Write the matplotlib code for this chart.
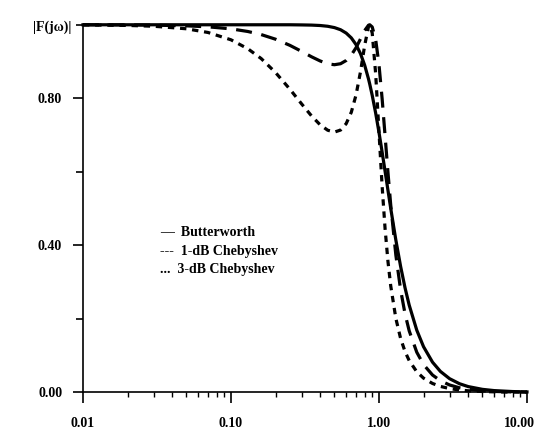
import matplotlib
matplotlib.use("Agg")
import matplotlib.pyplot as plt
import matplotlib.transforms as mtransforms
from matplotlib.ticker import FixedLocator, NullFormatter

# frequency points (normalized, log axis)
w = [0.01, 0.02, 0.03, 0.05, 0.07, 0.1, 0.13, 0.16, 0.2, 0.25, 0.3, 0.35,
     0.4, 0.45, 0.5, 0.55, 0.6, 0.65, 0.7, 0.75, 0.8, 0.85, 0.866, 0.9,
     0.95, 1.0, 1.05, 1.1, 1.15, 1.2, 1.3, 1.4, 1.5, 1.6, 1.8, 2.0, 2.3,
     2.6, 3.0, 3.5, 4.0, 5.0, 6.0, 8.0, 10.0]

butterworth = [1.000, 1.000, 1.000, 1.000, 1.000, 1.000, 1.000, 1.000, 1.000,
               1.000, 0.9996, 0.9991, 0.998, 0.9959, 0.9923, 0.9865, 0.9774,
               0.9643, 0.9459, 0.9214, 0.8902, 0.8522, 0.8386, 0.808, 0.7592,
               0.7071, 0.6537, 0.6007, 0.5494, 0.5008, 0.4142, 0.3424, 0.2841,
               0.2372, 0.169, 0.124, 0.0819, 0.0568, 0.037, 0.0233, 0.0156,
               0.008, 0.0046, 0.002, 0.001]

cheb_1db = [0.9999, 0.9995, 0.999, 0.9971, 0.9944, 0.9889, 0.9817, 0.9733,
            0.9607, 0.944, 0.9276, 0.9129, 0.9016, 0.8937, 0.8913, 0.894,
            0.9028, 0.9176, 0.9377, 0.9615, 0.9843, 0.9989, 1.000, 0.994,
            0.9592, 0.8913, 0.7988, 0.6967, 0.598, 0.5103, 0.3731, 0.2786,
            0.2133, 0.1672, 0.109, 0.0754, 0.047, 0.0314, 0.0199, 0.0122,
            0.0081, 0.0041, 0.0023, 0.001, 0.0005]

cheb_3db = [0.9996, 0.9982, 0.996, 0.9891, 0.979, 0.9591, 0.9347, 0.908,
            0.87, 0.8247, 0.7847, 0.752, 0.7279, 0.7131, 0.708, 0.7135,
            0.7308, 0.762, 0.8093, 0.8721, 0.9435, 0.9957, 1.000, 0.9776,
            0.8657, 0.708, 0.5606, 0.4438, 0.3558, 0.2897, 0.2009, 0.1463,
            0.1107, 0.0862, 0.0558, 0.0385, 0.024, 0.016, 0.0101, 0.0062,
            0.0041, 0.0021, 0.0012, 0.0005, 0.0003]

legend_lines = ["\u2014  Butterworth", "---  1-dB Chebyshev", "...  3-dB Chebyshev"]

plt.rcParams['font.family'] = ['Liberation Serif', 'DejaVu Serif']
plt.rcParams['font.weight'] = 'bold'

fig = plt.figure(figsize=(5.4, 4.3), dpi=100)
ax = fig.add_axes([0.1537, 0.0877, 0.8222, 0.8547])

ax.plot(w, butterworth, color='black', lw=2.3, clip_on=False)
ax.plot(w, cheb_1db, color='black', lw=2.3, dashes=(5, 3), clip_on=False)
ax.plot(w, cheb_3db, color='black', lw=2.3, dashes=(2, 1.8), clip_on=False)

ax.set_xscale('log')
ax.set_xlim(0.01, 10)
ax.set_ylim(0, 1.0)

ax.spines['top'].set_visible(False)
ax.spines['right'].set_visible(False)
ax.spines['left'].set_linewidth(1.2)
ax.spines['bottom'].set_linewidth(1.2)

ax.set_xticks([0.01, 0.1, 1, 10])
ax.set_xticklabels(['0.01', '0.10', '1.00', '10.00'])
ax.xaxis.set_minor_locator(FixedLocator(
    [m * d for d in (0.01, 0.1, 1) for m in range(2, 10)]))
ax.xaxis.set_minor_formatter(NullFormatter())
ax.tick_params(axis='x', which='major', length=8, width=1.2, pad=10,
               labelsize=10)
ax.tick_params(axis='x', which='minor', length=3.5, width=1)

ax.set_yticks([0.0, 0.4, 0.8])
ax.set_yticklabels(['0.00', '0.40', '0.80'])
ax.yaxis.set_minor_locator(FixedLocator([0.2, 0.6, 1.0]))
ax.tick_params(axis='y', which='major', length=7, width=1.2, pad=8,
               labelsize=10)
ax.tick_params(axis='y', which='minor', length=5, width=1.2)

for lab in ax.get_xticklabels() + ax.get_yticklabels():
    lab.set_fontweight('bold')

# nudge the last x label left so it stays inside the figure
last = ax.get_xticklabels()[-1]
last.set_transform(last.get_transform() +
                   mtransforms.ScaledTranslation(-8 / 100, 0, fig.dpi_scale_trans))

fig.text(52 / 540, 1 - 27 / 430, "|F(j\u03c9)|", ha='center', va='center',
         fontsize=10, fontweight='bold')

for i, t in enumerate(legend_lines):
    fig.text(160 / 540, 1 - (233 + 18.5 * i) / 430, t, ha='left',
             va='center', fontsize=10, fontweight='bold')

fig.savefig("out.png", dpi=100)
